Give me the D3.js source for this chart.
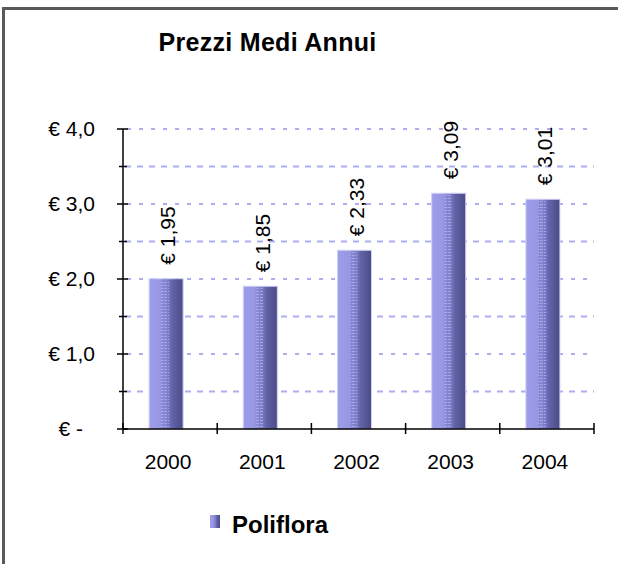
<!DOCTYPE html>
<html>
<head>
<meta charset="utf-8">
<script src="https://d3js.org/d3.v7.min.js"></script>
<style>
    html, body { margin: 0; background: #fff; overflow: hidden; }
    svg { display: block; }
    text { font-family: "Liberation Sans", Arial, sans-serif; fill: #000; }
</style>
</head>
<body>
<div id="chart"></div>
<script>
// data
var years = ["2000", "2001", "2002", "2003", "2004"];
var prices = [1.95, 1.85, 2.33, 3.09, 3.01];
var majorTicks = [0, 1, 2, 3, 4];
var minorTicks = [0.5, 1.5, 2.5, 3.5];
var tickLabels = ["€ -", "€ 1,0", "€ 2,0", "€ 3,0", "€ 4,0"];
var seriesName = "Poliflora";
var chartTitle = "Prezzi Medi Annui";

makePlot();

function makePlot() {
    // STEP 1: SET UP THE CANVAS
    var svgWidth = 618;
    var svgHeight = 564;

    var plot = { left: 123, right: 594, top: 129, bottom: 429 };

    var svg = d3.select("#chart")
        .append("svg")
        .attr("width", svgWidth)
        .attr("height", svgHeight);

    // outer frame (runs off the right and bottom edges)
    svg.append("rect")
        .attr("x", 3.5)
        .attr("y", 8.5)
        .attr("width", 700)
        .attr("height", 700)
        .attr("fill", "#fff")
        .attr("stroke", "#5a5a5a")
        .attr("stroke-width", 3);

    // STEP 2: gradients / texture for the bars
    var defs = svg.append("defs");
    var grad = defs.append("linearGradient")
        .attr("id", "barGrad")
        .attr("x1", "0%").attr("x2", "100%")
        .attr("y1", "0%").attr("y2", "0%");
    [["0%", "#9d9dec"], ["33%", "#9797e3"], ["40%", "#8888d6"], ["55%", "#7d7dc9"],
     ["68%", "#6262a8"], ["100%", "#4b4b86"]].forEach(function(s) {
        grad.append("stop").attr("offset", s[0]).attr("stop-color", s[1]);
    });

    var pat = defs.append("pattern")
        .attr("id", "barTex")
        .attr("width", 4)
        .attr("height", 3)
        .attr("patternUnits", "userSpaceOnUse");
    pat.append("rect")
        .attr("x", 0).attr("y", 0)
        .attr("width", 3).attr("height", 1)
        .attr("fill", "#c4c4f2")
        .attr("opacity", 0.55);

    // STEP 3: SCALES
    var xScale = d3.scaleBand()
        .domain(years)
        .range([plot.left, plot.right]);

    var yScale = d3.scaleLinear()
        .domain([0, 4])
        .range([plot.bottom, plot.top]);

    // STEP 4: GRIDLINES
    svg.append("g")
        .selectAll("line")
        .data(majorTicks.filter(d => d > 0))
        .enter()
        .append("line")
        .attr("x1", plot.left + 4)
        .attr("x2", plot.right)
        .attr("y1", d => yScale(d))
        .attr("y2", d => yScale(d))
        .attr("stroke", "#adadf0")
        .attr("stroke-width", 2)
        .attr("stroke-dasharray", "4,8");

    svg.append("g")
        .selectAll("line")
        .data(minorTicks)
        .enter()
        .append("line")
        .attr("x1", plot.left + 2)
        .attr("x2", plot.right)
        .attr("y1", d => yScale(d))
        .attr("y2", d => yScale(d))
        .attr("stroke", "#adadf0")
        .attr("stroke-width", 2)
        .attr("stroke-dasharray", "6,6");

    // STEP 5: BARS
    var barWidth = 34;
    var depth = 4; // little 3D lift the original draws on top
    var barX = d => xScale(d) + xScale.bandwidth() / 2 - 4 - barWidth / 2;

    var bars = svg.append("g")
        .selectAll("g")
        .data(years)
        .enter()
        .append("g");

    bars.append("rect")
        .attr("x", d => barX(d))
        .attr("y", (d, i) => yScale(prices[i]) - depth)
        .attr("width", barWidth)
        .attr("height", (d, i) => plot.bottom - yScale(prices[i]) + depth)
        .attr("fill", "url(#barGrad)")
        .attr("stroke", "#cfcff5")
        .attr("stroke-width", 1);

    bars.append("rect")
        .attr("x", d => barX(d) + 12)
        .attr("y", (d, i) => yScale(prices[i]) - depth + 2)
        .attr("width", 8)
        .attr("height", (d, i) => plot.bottom - yScale(prices[i]) + depth - 2)
        .attr("fill", "url(#barTex)");

    // value labels, rotated
    bars.append("text")
        .attr("transform", (d, i) => `translate(${barX(d) + barWidth / 2 + 2}, ${yScale(prices[i]) - depth - 14}) rotate(-90)`)
        .attr("dy", "0.35em")
        .attr("font-size", 21)
        .text((d, i) => "€ " + d3.format(".2f")(prices[i]).replace(".", ","));

    // STEP 6: AXES
    var axes = svg.append("g")
        .attr("stroke", "#000")
        .attr("stroke-width", 1.5);

    axes.append("line")
        .attr("x1", plot.left).attr("x2", plot.left)
        .attr("y1", plot.top).attr("y2", plot.bottom);

    axes.append("line")
        .attr("x1", plot.left).attr("x2", plot.right)
        .attr("y1", plot.bottom).attr("y2", plot.bottom);

    axes.selectAll(".ymaj")
        .data(majorTicks)
        .enter()
        .append("line")
        .attr("x1", plot.left - 6).attr("x2", plot.left + 5)
        .attr("y1", d => yScale(d)).attr("y2", d => yScale(d));

    axes.selectAll(".ymin")
        .data(minorTicks)
        .enter()
        .append("line")
        .attr("x1", plot.left - 4).attr("x2", plot.left + 4)
        .attr("y1", d => yScale(d)).attr("y2", d => yScale(d));

    var xBounds = years.map(d => xScale(d)).concat([plot.right]);
    axes.selectAll(".xtick")
        .data(xBounds)
        .enter()
        .append("line")
        .attr("x1", d => d).attr("x2", d => d)
        .attr("y1", plot.bottom - 6).attr("y2", plot.bottom + 5);

    // tick labels
    svg.append("g")
        .selectAll("text")
        .data(majorTicks)
        .enter()
        .append("text")
        .attr("x", (d, i) => i === 0 ? 83 : 95)
        .attr("y", d => yScale(d))
        .attr("dy", "0.35em")
        .attr("text-anchor", "end")
        .attr("font-size", 21)
        .text((d, i) => tickLabels[i]);

    svg.append("g")
        .selectAll("text")
        .data(years)
        .enter()
        .append("text")
        .attr("x", d => xScale(d) + xScale.bandwidth() / 2 - 2)
        .attr("y", 469)
        .attr("text-anchor", "middle")
        .attr("font-size", 21)
        .text(d => d);

    // STEP 7: TITLE + LEGEND
    svg.append("text")
        .attr("x", 267.5)
        .attr("y", 51)
        .attr("text-anchor", "middle")
        .attr("font-size", 25)
        .attr("font-weight", "bold")
        .attr("letter-spacing", 0.3)
        .text(chartTitle);

    svg.append("rect")
        .attr("x", 210)
        .attr("y", 515)
        .attr("width", 10)
        .attr("height", 13)
        .attr("fill", "url(#barGrad)");

    svg.append("text")
        .attr("x", 232)
        .attr("y", 533)
        .attr("font-size", 24)
        .attr("font-weight", "bold")
        .text(seriesName);
}
</script>
</body>
</html>
